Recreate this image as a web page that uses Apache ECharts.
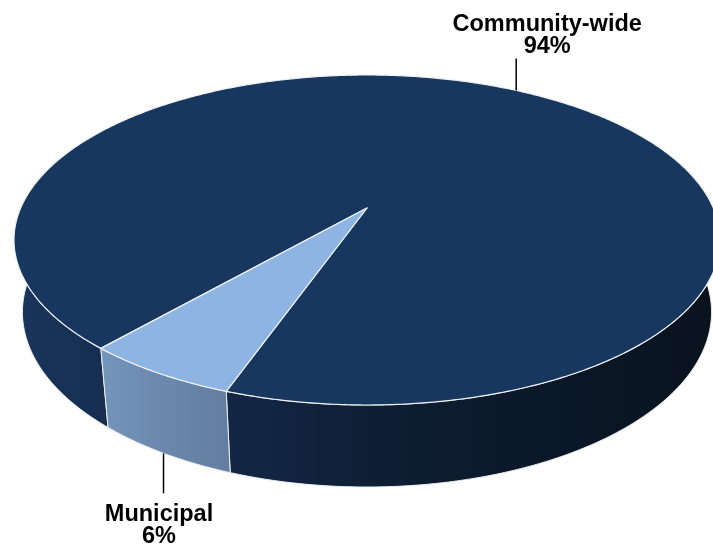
<!DOCTYPE html>
<html>
<head>
<meta charset="utf-8">
<script src="https://cdn.jsdelivr.net/npm/echarts@6/dist/echarts.min.js"></script>
<style>
html,body{margin:0;padding:0;background:#fff;}
#chart{width:713px;height:551px;}
</style>
</head>
<body>
<div id="chart"></div>
<script>
// ---- data ----
var categories = ['Community-wide', 'Municipal'];
var values = [94, 6];

// ---- style / layout (not data) ----
var topColors = ['#17375E', '#8DB4E2'];
var wallGradients = [
  [[0, '#1a355b'], [0.13, '#162e50'], [0.31, '#132745'], [0.55, '#0d1d32'], [0.8, '#0a1726'], [1, '#09131e']],
  [[0, '#7494ba'], [1, '#627d9f']]
];
var wallGradientX = [[14, 713], [103, 228]];
var edgeColor = '#eef1f5';
var startDeg = 131.0;            // screen-clockwise angle where first slice starts
var proj = {cx: 367, cy: 208, s: 346.3, sn: 0.4586, c: 0.8887, D: 4.584, H: 0.2362};
var labelFont = {fontSize: 23.5, lineHeight: 22, fontFamily: '"Liberation Sans", Arial, sans-serif'};

function project(deg, Y) {
  var t = deg * Math.PI / 180;
  var X = Math.cos(t), Z = Math.sin(t);
  var v = Y * proj.c - Z * proj.sn;
  var w = Y * proj.sn + Z * proj.c;
  var sc = proj.D / (proj.D - w);
  return [proj.cx + proj.s * X * sc, proj.cy - proj.s * v * sc];
}

var total = values.reduce(function (a, b) { return a + b; }, 0);
var starts = [];
(function () {
  var acc = startDeg;
  for (var i = 0; i < values.length; i++) {
    starts.push(acc);
    acc += values[i] / total * 360;
  }
})();

function renderItem(params, api) {
  var i = params.dataIndex;
  var v = api.value(0);
  var a0 = starts[i];
  var a1 = a0 + v / total * 360;
  var children = [];
  var step = 0.5;
  var angles = [];
  for (var a = a0; a < a1; a += step) angles.push(a);
  angles.push(a1);

  // walls (visible front part)
  var runs = [], cur = null;
  angles.forEach(function (a) {
    if (Math.sin(a * Math.PI / 180) >= -0.02) {
      if (!cur) { cur = []; runs.push(cur); }
      cur.push(a);
    } else cur = null;
  });
  runs.forEach(function (run) {
    if (run.length < 2) return;
    var pts = [];
    run.forEach(function (a) { pts.push(project(a, 0)); });
    for (var k = run.length - 1; k >= 0; k--) pts.push(project(run[k], -proj.H));
    children.push({
      type: 'polygon', z2: 1,
      shape: {points: pts},
      style: {
        fill: {type: 'linear', x: wallGradientX[i][0], y: 0, x2: wallGradientX[i][1], y2: 0, global: true,
          colorStops: wallGradients[i].map(function (s) { return {offset: s[0], color: s[1]}; })},
        stroke: edgeColor, lineWidth: 1
      }
    });
  });

  // top face
  var topPts = [[proj.cx, proj.cy]];
  angles.forEach(function (a) { topPts.push(project(a, 0)); });
  children.push({
    type: 'polygon', z2: 5,
    shape: {points: topPts},
    style: {fill: topColors[i], stroke: edgeColor, lineWidth: 1.2, lineJoin: 'round'}
  });

  // label with leader
  var mid = (a0 + a1) / 2;
  var pct = Math.round(v / total * 100) + '%';
  var txt = categories[i] + '\n' + pct;
  var anchor, p2, tx, ty;
  if (Math.sin(mid * Math.PI / 180) < 0) {
    anchor = project(mid, 0);
    p2 = [anchor[0], anchor[1] - 32];
    tx = anchor[0] + 31; ty = anchor[1] - 54.5;
  } else {
    anchor = project(mid, -proj.H);
    p2 = [anchor[0], anchor[1] + 40];
    tx = anchor[0] - 4.5; ty = anchor[1] + 72.5;
  }
  children.push({
    type: 'line', z2: 10,
    shape: {x1: anchor[0], y1: anchor[1], x2: p2[0], y2: p2[1]},
    style: {stroke: '#000', lineWidth: 1.5}
  });
  children.push({
    type: 'text', z2: 10,
    style: {
      text: txt, x: tx, y: ty, fill: '#000',
      fontSize: labelFont.fontSize, fontWeight: 'bold', fontFamily: labelFont.fontFamily,
      lineHeight: labelFont.lineHeight, align: 'center', verticalAlign: 'middle'
    }
  });
  return {type: 'group', children: children};
}

var chart = echarts.init(document.getElementById('chart'), null, {renderer: 'canvas'});
chart.setOption({
  backgroundColor: '#ffffff',
  animation: false,
  series: [{
    type: 'custom',
    coordinateSystem: 'none',
    renderItem: renderItem,
    data: values.map(function (v, i) { return {name: categories[i], value: [v]}; })
  }]
});
</script>
</body>
</html>
